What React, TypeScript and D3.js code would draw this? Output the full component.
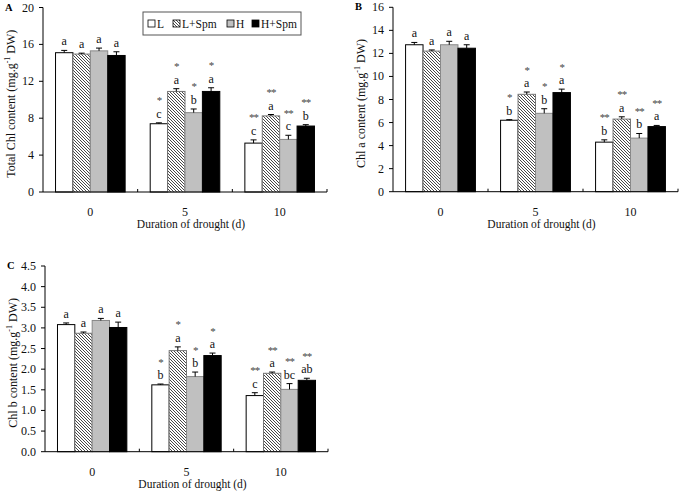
import React from "react";
import * as d3 from "d3";

const categories = ["0", "5", "10"];
const series = ["L", "L+Spm", "H", "H+Spm"];

// values per series (rows) x category (cols)
const totalChlMean = [
  [15.1, 7.4, 5.3],
  [14.95, 10.9, 8.25],
  [15.3, 8.6, 5.7],
  [14.8, 10.9, 7.15],
];
const totalChlErr = [
  [0.25, 0.1, 0.35],
  [0.1, 0.3, 0.15],
  [0.3, 0.4, 0.45],
  [0.4, 0.4, 0.15],
];
const totalChlLetters = [
  ["a", "c", "c"],
  ["a", "a", "a"],
  ["a", "b", "c"],
  ["a", "a", "b"],
];

const chlAMean = [
  [12.75, 6.2, 4.3],
  [12.2, 8.45, 6.3],
  [12.75, 6.8, 4.65],
  [12.45, 8.6, 5.65],
];
const chlAErr = [
  [0.2, 0.05, 0.2],
  [0.1, 0.2, 0.2],
  [0.3, 0.4, 0.4],
  [0.3, 0.3, 0.1],
];
const chlALetters = [
  ["a", "b", "b"],
  ["a", "a", "a"],
  ["a", "b", "b"],
  ["a", "a", "a"],
];

const chlBMean = [
  [3.08, 1.62, 1.36],
  [2.87, 2.45, 1.9],
  [3.18, 1.82, 1.51],
  [3.01, 2.33, 1.73],
];
const chlBErr = [
  [0.04, 0.02, 0.07],
  [0.03, 0.09, 0.03],
  [0.05, 0.11, 0.14],
  [0.13, 0.06, 0.05],
];
const chlBLetters = [
  ["a", "b", "c"],
  ["a", "a", "a"],
  ["a", "b", "bc"],
  ["a", "a", "ab"],
];

const stars = ["", "*", "**"];

const yTicksA = [0, 4, 8, 12, 16, 20];
const yTicksB = [0, 2, 4, 6, 8, 10, 12, 14, 16];
const yTicksC = [0, 0.5, 1, 1.5, 2, 2.5, 3, 3.5, 4, 4.5];

const FONT = "'Liberation Serif', 'Times New Roman', serif";

const fills = ["#ffffff", "url(#hatch)", "#c0c0c0", "#000000"];
const strokes = ["#000000", "#777777", "#888888", "#000000"];

type PanelProps = {
  label: string;
  left: number;
  right: number;
  top: number;
  bottom: number;
  ymax: number;
  ticks: number[];
  fmt: (v: number) => string;
  mean: number[][];
  err: number[][];
  letters: string[][];
  yTitle: string;
  legend?: boolean;
};

function Panel(p: PanelProps) {
  const y = d3.scaleLinear().domain([0, p.ymax]).range([p.bottom, p.top]);
  const x0 = d3.scaleBand<string>().domain(categories).range([p.left, p.right]).padding(0);
  const x1 = d3
    .scaleBand<string>()
    .domain(series)
    .range([0, x0.bandwidth()])
    .paddingInner(0)
    .paddingOuter(0.72);
  const bw = x1.bandwidth();
  const midY = (p.top + p.bottom) / 2 + 4;
  return (
    <g fontFamily={FONT} fontSize={12}>
      <text x={p.left - 38} y={p.top + 3} fontWeight="bold" fontSize={10.5}>
        {p.label}
      </text>
      {/* bars */}
      {series.map((s, si) =>
        categories.map((c, ci) => {
          const v = p.mean[si][ci];
          const e = p.err[si][ci];
          const bx = (x0(c) as number) + (x1(s) as number);
          const cx = bx + bw / 2;
          const yTop = y(v + e);
          const letterY = yTop - 5;
          return (
            <g key={s + c}>
              <rect
                x={bx}
                y={y(v)}
                width={bw}
                height={p.bottom - y(v)}
                fill={fills[si]}
                stroke={strokes[si]}
                strokeWidth={1}
              />
              <line x1={cx} x2={cx} y1={y(v)} y2={yTop} stroke="#000" />
              <line x1={cx - 3} x2={cx + 3} y1={yTop} y2={yTop} stroke="#000" />
              <text x={cx} y={letterY} textAnchor="middle" fill="#111">
                {p.letters[si][ci]}
              </text>
              {stars[ci] && (
                <text
                  x={cx}
                  y={letterY - 13.5}
                  textAnchor="middle"
                  fill="#444"
                  fontSize={11}
                  letterSpacing={-1}
                >
                  {stars[ci]}
                </text>
              )}
            </g>
          );
        })
      )}
      {/* y axis */}
      <line x1={p.left} x2={p.left} y1={p.top} y2={p.bottom} stroke="#000" />
      {p.ticks.map((t) => (
        <g key={t}>
          <line x1={p.left - 4} x2={p.left} y1={y(t)} y2={y(t)} stroke="#000" />
          <text x={p.left - 9} y={y(t) + 4} textAnchor="end" fill="#111">
            {p.fmt(t)}
          </text>
        </g>
      ))}
      {/* x axis */}
      <line x1={p.left} x2={p.right} y1={p.bottom} y2={p.bottom} stroke="#000" />
      {categories.map((c) => (
        <g key={c}>
          <line
            x1={(x0(c) as number) + x0.bandwidth()}
            x2={(x0(c) as number) + x0.bandwidth()}
            y1={p.bottom}
            y2={p.bottom - 3}
            stroke="#000"
          />
          <text
            x={(x0(c) as number) + x0.bandwidth() / 2}
            y={p.bottom + 24}
            textAnchor="middle"
            fill="#111"
          >
            {c}
          </text>
        </g>
      ))}
      <text
        x={(p.left + p.right) / 2 + 6}
        y={p.bottom + 36}
        textAnchor="middle"
        fill="#111"
        fontSize={11.5}
      >
        Duration of drought (d)
      </text>
      <text
        transform={`translate(${p.left - 28},${midY}) rotate(-90)`}
        textAnchor="middle"
        fill="#111"
      >
        {p.yTitle}
        {"  (mg.g"}
        <tspan dy={-5} fontSize={8}>
          -1
        </tspan>
        <tspan dy={5}>{" DW)"}</tspan>
      </text>
      {p.legend && (
        <g>
          <rect x={143} y={12} width={158} height={23} fill="#fff" stroke="#555" />
          {series.map((s, si) => {
            const offs = [0, 25, 79, 104];
            const lx = 148 + offs[si];
            return (
              <g key={s}>
                <rect x={lx} y={20} width={7} height={7} fill={fills[si]} stroke="#000" strokeWidth={0.8} />
                <text x={lx + 9} y={27.5} fill="#111" fontSize={11.5}>
                  {s}
                </text>
              </g>
            );
          })}
        </g>
      )}
    </g>
  );
}

export default function App() {
  const f0 = d3.format("d");
  const f1 = d3.format(".1f");
  return (
    <svg
      width={679}
      height={491}
      style={{ position: "absolute", left: 0, top: 0, background: "#fff" }}
    >
      <defs>
        <pattern id="hatch" patternUnits="userSpaceOnUse" width={3} height={3}>
          <rect width={3} height={3} fill="#fff" />
          <path d="M0,0 L3,3 M-1,2 L1,4 M2,-1 L4,1" stroke="#333" strokeWidth={0.9} />
        </pattern>
      </defs>
      <Panel
        label="A"
        left={43}
        right={327}
        top={7.5}
        bottom={192}
        ymax={20}
        ticks={yTicksA}
        fmt={f0}
        mean={totalChlMean}
        err={totalChlErr}
        letters={totalChlLetters}
        yTitle="Total Chl content"
        legend
      />
      <Panel
        label="B"
        left={393}
        right={678}
        top={7.3}
        bottom={191.7}
        ymax={16}
        ticks={yTicksB}
        fmt={f0}
        mean={chlAMean}
        err={chlAErr}
        letters={chlALetters}
        yTitle="Chl a content"
      />
      <Panel
        label="C"
        left={45}
        right={328}
        top={266}
        bottom={451.7}
        ymax={4.5}
        ticks={yTicksC}
        fmt={f1}
        mean={chlBMean}
        err={chlBErr}
        letters={chlBLetters}
        yTitle="Chl b content"
      />
    </svg>
  );
}
